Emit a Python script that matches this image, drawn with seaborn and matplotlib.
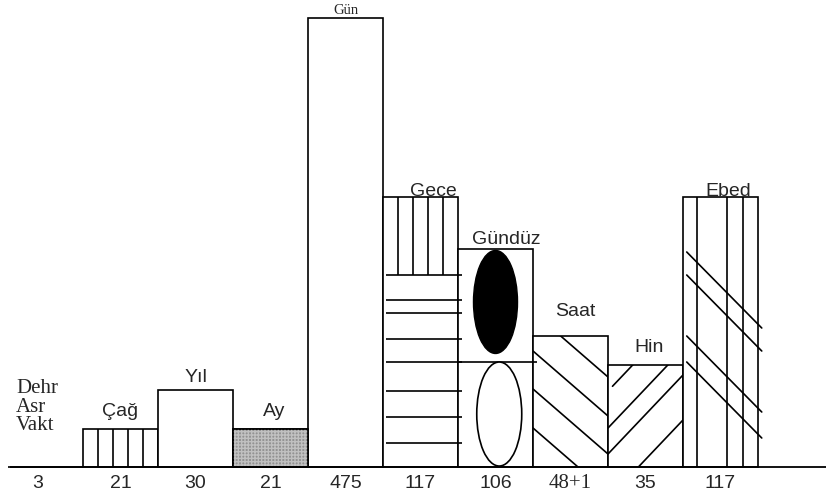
import matplotlib
matplotlib.use("Agg")
import matplotlib.pyplot as plt
import numpy as np
import pandas as pd
import seaborn as sns
from matplotlib.patches import Ellipse

# word over each column, the count written under it, drawn column height
words = ["Dehr\nAsr\nVakt", "Çağ", "Yıl", "Ay", "Gün", "Gece", "Gündüz", "Saat", "Hin", "Ebed"]
counts = ["3", "21", "30", "21", "475", "117", "106", "48+1", "35", "117"]
heights = [0, 38, 77, 38, 449, 270, 218, 131, 102, 270]

SANS = "Liberation Sans"
SERIF = "Liberation Serif"
UNIT = 75.0   # px per column
X0 = 45.5     # px centre of the first column
BASE = 467    # px of the baseline
LW = 1.2


def main():
    sns.set_style("white")
    fig = plt.figure(figsize=(8.26, 4.97), dpi=100)
    ax = fig.add_axes([0, 0, 1, 1])

    df = pd.DataFrame({"word": words, "height": heights})
    sns.barplot(data=df, x="word", y="height", order=words, width=1.0,
                color="white", saturation=1, edgecolor="black",
                linewidth=LW, ax=ax)
    bars = list(ax.patches)
    ax.set_xlim(-X0 / UNIT, (826 - X0) / UNIT)
    ax.set_ylim(BASE - 497, BASE)
    ax.axis("off")

    def span(i):
        return i - 0.5, i + 0.5, heights[i]

    def diag(i, starts, slope, x_from=0.0):
        left, right, h = span(i)
        xs = np.array([left + x_from, right + 0.3])
        for s in starts:
            ln, = ax.plot(xs, s + slope * (xs - left), color="black", lw=LW)
            ln.set_clip_path(bars[i])

    # Çağ: vertical stripes
    left, right, h = span(1)
    ax.vlines([left + f for f in (0.2, 0.4, 0.6, 0.8)], 0, h, color="black", lw=LW)

    # Ay: grey stipple
    left, right, h = span(3)
    bars[3].set_facecolor("#929292")
    ax.bar(3, h, width=1.0, color="none", hatch="+++++", edgecolor="#c0c0c0", lw=0, zorder=1.5)
    ax.bar(3, h, width=1.0, fill=False, edgecolor="black", lw=LW, zorder=3)

    # Gece: vertical stripes on top, horizontal rules below
    left, right, h = span(5)
    ax.vlines([left + f for f in (0.2, 0.4, 0.6, 0.8)], 0.711 * h, h, color="black", lw=LW)
    for f in (0.089, 0.185, 0.281, 0.389, 0.474, 0.570, 0.619, 0.711):
        ax.hlines(f * h, left + 0.04, right + 0.05, color="black", lw=LW)

    # Gündüz: divider, black ellipse above, open ellipse below
    left, right, h = span(6)
    ax.hlines(0.482 * h, left, right + 0.05, color="black", lw=LW)
    ax.add_patch(Ellipse((6, 0.757 * h), 0.587, 103, facecolor="black", edgecolor="black", zorder=2))
    ax.add_patch(Ellipse((6.05, 0.243 * h), 0.6, 104, facecolor="white", edgecolor="black",
                         lw=LW, zorder=2))

    # Saat and Hin: chevron
    diag(7, (155, 116, 78, 39), -65)
    diag(8, (39, 13, -32), 79)
    diag(8, (76,), 79, x_from=0.06)

    # Ebed: vertical stripes crossed by diagonals
    left, right, h = span(9)
    ax.vlines([left + f for f in (0.19, 0.59, 0.8)], 0, h, color="black", lw=LW)
    xs = np.array([left + 0.05, right + 0.05])
    for s in (215, 192, 131, 105):
        ax.plot(xs, s - 76 * (xs - xs[0]), color="black", lw=LW)

    ax.hlines(0, (10 - X0) / UNIT, (826 - X0) / UNIT, color="black", lw=1.3, zorder=4)

    # words over the columns
    label_dx = [0, 0, 0, 0.05, 0, 0.17, 0.15, 0.06, 0.05, 0.1]
    label_dy = [0, 18, 13, 17, 8, 5, 9, 25, 17, 6]
    for i, w in enumerate(words):
        if i == 0:
            ax.text(-0.39, 60, w, family=SERIF, fontsize=15, ha="left", va="center",
                    linespacing=0.95)
        elif i == 4:
            ax.text(i + label_dx[i], heights[i] + label_dy[i], w, family=SERIF,
                    fontsize=10.5, ha="center", va="center")
        else:
            ax.text(i + label_dx[i], heights[i] + label_dy[i], w, family=SANS,
                    fontsize=14, ha="center", va="center", zorder=5)

    # counts under the baseline
    for i, c in enumerate(counts):
        fam = SERIF if "+" in c else SANS
        dx = -0.11 if i == 0 else 0
        ax.text(i + dx, -17, c, family=fam, fontsize=15 if fam == SERIF else 14,
                ha="center", va="center")

    fig.savefig("out.png", dpi=100)


if __name__ == "__main__":
    main()
